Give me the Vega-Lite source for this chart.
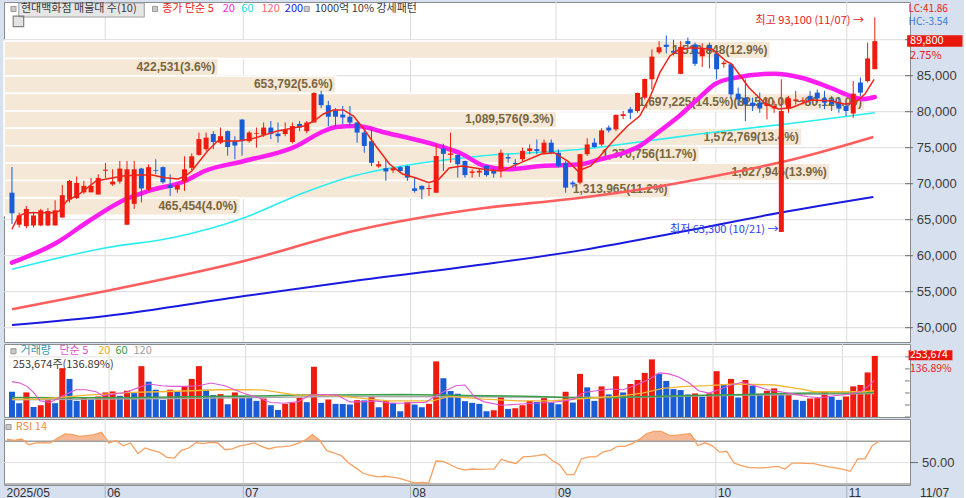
{
  "$schema": "https://vega.github.io/schema/vega-lite/v6.json",
  "background": "#d6e0ee",
  "padding": {"left": 2, "top": 1, "right": 0, "bottom": 0},
  "spacing": 0,
  "resolve": {"scale": {"color": "independent"}},
  "config": {
    "view": {"fill": "#ffffff", "stroke": "#8c8c8c", "strokeWidth": 1},
    "font": "Liberation Sans"
  },
  "datasets": {
    "px": [
      {"i":0,"o":68750,"h":72320,"l":64400,"c":65900,"v":105010,"vu":0,"r":72.1},
      {"i":1,"o":64300,"h":66000,"l":63900,"c":65600,"v":57340,"vu":0,"r":70.9},
      {"i":2,"o":64100,"h":66900,"l":63800,"c":66500,"v":102210,"vu":1,"r":72.1},
      {"i":3,"o":64200,"h":66100,"l":63900,"c":65600,"v":41920,"vu":0,"r":66.8},
      {"i":4,"o":64200,"h":66500,"l":64100,"c":66300,"v":48930,"vu":1,"r":68.6},
      {"i":5,"o":64200,"h":66600,"l":64100,"c":66200,"v":69960,"vu":1,"r":68.8},
      {"i":6,"o":64200,"h":67700,"l":64200,"c":66300,"v":57340,"vu":0,"r":68.6},
      {"i":7,"o":65300,"h":69800,"l":65300,"c":68400,"v":203150,"vu":1,"r":73.0},
      {"i":8,"o":67800,"h":70500,"l":67400,"c":70400,"v":158290,"vu":0,"r":77.0},
      {"i":9,"o":68000,"h":71000,"l":67900,"c":70100,"v":67160,"vu":0,"r":76.2},
      {"i":10,"o":68800,"h":70400,"l":68600,"c":69700,"v":81180,"vu":1,"r":74.6},
      {"i":11,"o":68800,"h":70800,"l":68800,"c":69700,"v":74170,"vu":0,"r":75.3},
      {"i":12,"o":68500,"h":71300,"l":68500,"c":70800,"v":85380,"vu":1,"r":76.2},
      {"i":13,"o":71800,"h":72900,"l":70800,"c":71950,"v":102210,"vu":1,"r":78.4},
      {"i":14,"o":69900,"h":72000,"l":69700,"c":70300,"v":106410,"vu":1,"r":68.4},
      {"i":15,"o":70300,"h":73150,"l":70000,"c":72100,"v":88190,"vu":0,"r":70.5},
      {"i":16,"o":64300,"h":73150,"l":64300,"c":72000,"v":109220,"vu":1,"r":65.8},
      {"i":17,"o":67200,"h":73150,"l":66500,"c":72000,"v":99400,"vu":0,"r":68.4},
      {"i":18,"o":72100,"h":72200,"l":67400,"c":69350,"v":211560,"vu":1,"r":58.4},
      {"i":19,"o":69200,"h":72700,"l":69000,"c":72300,"v":147070,"vu":0,"r":63.7},
      {"i":20,"o":71900,"h":73400,"l":71300,"c":71800,"v":113420,"vu":0,"r":61.5},
      {"i":21,"o":72300,"h":72400,"l":70000,"c":70200,"v":71360,"vu":0,"r":59.6},
      {"i":22,"o":69800,"h":71300,"l":68300,"c":69400,"v":113420,"vu":1,"r":55.0},
      {"i":23,"o":69200,"h":70100,"l":68750,"c":69800,"v":105010,"vu":0,"r":54.3},
      {"i":24,"o":70300,"h":73800,"l":69000,"c":72000,"v":127440,"vu":1,"r":61.5},
      {"i":25,"o":72200,"h":74200,"l":71900,"c":73800,"v":158290,"vu":1,"r":63.7},
      {"i":26,"o":74000,"h":77100,"l":73900,"c":76200,"v":211560,"vu":1,"r":68.8},
      {"i":27,"o":74800,"h":77100,"l":74500,"c":76400,"v":113420,"vu":0,"r":67.8},
      {"i":28,"o":76900,"h":77300,"l":74800,"c":75800,"v":90990,"vu":0,"r":69.0},
      {"i":29,"o":75700,"h":77800,"l":75500,"c":76600,"v":95200,"vu":1,"r":68.4},
      {"i":30,"o":77300,"h":77400,"l":73900,"c":75100,"v":53140,"vu":0,"r":62.1},
      {"i":31,"o":75900,"h":76600,"l":73400,"c":75300,"v":102210,"vu":1,"r":62.8},
      {"i":32,"o":78900,"h":79000,"l":73900,"c":75900,"v":88190,"vu":0,"r":65.6},
      {"i":33,"o":75900,"h":77300,"l":75700,"c":77100,"v":81180,"vu":0,"r":66.8},
      {"i":34,"o":76900,"h":77800,"l":75000,"c":77000,"v":67160,"vu":0,"r":68.4},
      {"i":35,"o":76800,"h":78500,"l":76500,"c":77800,"v":76970,"vu":1,"r":65.3},
      {"i":36,"o":77800,"h":78700,"l":76200,"c":76900,"v":48930,"vu":0,"r":62.8},
      {"i":37,"o":76950,"h":78500,"l":75700,"c":76600,"v":29300,"vu":0,"r":64.5},
      {"i":38,"o":76900,"h":78500,"l":76600,"c":77550,"v":54680,"vu":1,"r":65.0},
      {"i":39,"o":75800,"h":78500,"l":75600,"c":78000,"v":58880,"vu":1,"r":65.7},
      {"i":40,"o":78300,"h":78700,"l":77300,"c":77800,"v":79910,"vu":1,"r":68.0},
      {"i":41,"o":77300,"h":78700,"l":77000,"c":78500,"v":61690,"vu":0,"r":71.0},
      {"i":42,"o":78500,"h":82700,"l":78500,"c":82600,"v":208900,"vu":1,"r":76.2},
      {"i":43,"o":82400,"h":82900,"l":80500,"c":80900,"v":58880,"vu":0,"r":70.9},
      {"i":44,"o":80900,"h":81500,"l":78000,"c":79300,"v":72900,"vu":1,"r":61.2},
      {"i":45,"o":80200,"h":80500,"l":78000,"c":79300,"v":54680,"vu":0,"r":59.0},
      {"i":46,"o":79600,"h":80800,"l":78250,"c":79200,"v":54000,"vu":0,"r":56.5},
      {"i":47,"o":79300,"h":80800,"l":78000,"c":78500,"v":51870,"vu":0,"r":49.6},
      {"i":48,"o":78500,"h":78600,"l":75700,"c":77100,"v":70100,"vu":1,"r":44.8},
      {"i":49,"o":77100,"h":77550,"l":74300,"c":75250,"v":69000,"vu":0,"r":40.0},
      {"i":50,"o":75900,"h":77550,"l":72450,"c":72900,"v":82720,"vu":1,"r":38.0},
      {"i":51,"o":72400,"h":73150,"l":72200,"c":72700,"v":40660,"vu":0,"r":36.7},
      {"i":52,"o":72150,"h":73400,"l":70400,"c":71700,"v":65890,"vu":1,"r":37.2},
      {"i":53,"o":71850,"h":72300,"l":71500,"c":72150,"v":58880,"vu":0,"r":36.4},
      {"i":54,"o":72300,"h":72450,"l":71500,"c":71750,"v":23830,"vu":0,"r":35.2},
      {"i":55,"o":72450,"h":72500,"l":70400,"c":70850,"v":61690,"vu":1,"r":33.0},
      {"i":56,"o":69350,"h":70850,"l":68750,"c":69000,"v":51870,"vu":0,"r":31.0},
      {"i":57,"o":69700,"h":69750,"l":67850,"c":69200,"v":40660,"vu":0,"r":31.5},
      {"i":58,"o":69250,"h":69900,"l":68300,"c":69400,"v":54680,"vu":1,"r":30.9},
      {"i":59,"o":68750,"h":75450,"l":68750,"c":73850,"v":231330,"vu":1,"r":51.5},
      {"i":60,"o":74900,"h":75550,"l":71750,"c":74150,"v":161230,"vu":0,"r":51.2},
      {"i":61,"o":74000,"h":77100,"l":72900,"c":74200,"v":107950,"vu":0,"r":48.0},
      {"i":62,"o":74000,"h":74050,"l":70850,"c":72700,"v":96740,"vu":0,"r":44.5},
      {"i":63,"o":73150,"h":73200,"l":70850,"c":71200,"v":65890,"vu":0,"r":43.2},
      {"i":64,"o":71500,"h":72000,"l":70850,"c":71700,"v":58880,"vu":0,"r":44.0},
      {"i":65,"o":71550,"h":72150,"l":70950,"c":71800,"v":54680,"vu":0,"r":43.6},
      {"i":66,"o":72500,"h":72550,"l":71000,"c":71200,"v":23830,"vu":0,"r":43.8},
      {"i":67,"o":71850,"h":72250,"l":70850,"c":71400,"v":28040,"vu":1,"r":44.2},
      {"i":68,"o":72000,"h":74750,"l":70850,"c":74300,"v":82720,"vu":1,"r":53.2},
      {"i":69,"o":73700,"h":74150,"l":72900,"c":73500,"v":33650,"vu":0,"r":50.8},
      {"i":70,"o":72900,"h":73400,"l":72150,"c":72700,"v":36450,"vu":1,"r":49.2},
      {"i":71,"o":73400,"h":75000,"l":73150,"c":74550,"v":48930,"vu":1,"r":55.3},
      {"i":72,"o":74550,"h":75450,"l":74100,"c":74900,"v":67160,"vu":1,"r":55.8},
      {"i":73,"o":74800,"h":76150,"l":74100,"c":74550,"v":62950,"vu":0,"r":56.5},
      {"i":74,"o":74300,"h":76150,"l":74100,"c":75700,"v":78370,"vu":1,"r":57.8},
      {"i":75,"o":75700,"h":76150,"l":74100,"c":74300,"v":60150,"vu":0,"r":52.0},
      {"i":76,"o":74300,"h":74750,"l":72250,"c":72450,"v":53140,"vu":0,"r":48.1},
      {"i":77,"o":72900,"h":73150,"l":68750,"c":69450,"v":105010,"vu":1,"r":38.7},
      {"i":78,"o":70150,"h":70400,"l":69450,"c":69900,"v":60150,"vu":0,"r":38.7},
      {"i":79,"o":70150,"h":74150,"l":69900,"c":74100,"v":179320,"vu":1,"r":53.4},
      {"i":80,"o":74100,"h":76300,"l":73850,"c":75450,"v":123240,"vu":0,"r":55.3},
      {"i":81,"o":75700,"h":76300,"l":75000,"c":75100,"v":67160,"vu":0,"r":55.3},
      {"i":82,"o":75450,"h":77700,"l":75250,"c":77400,"v":127440,"vu":1,"r":60.0},
      {"i":83,"o":77800,"h":78100,"l":77100,"c":77400,"v":93790,"vu":0,"r":61.5},
      {"i":84,"o":77550,"h":79650,"l":77300,"c":79550,"v":169500,"vu":1,"r":65.3},
      {"i":85,"o":79400,"h":80100,"l":78950,"c":79650,"v":102210,"vu":0,"r":65.3},
      {"i":86,"o":80350,"h":80650,"l":78950,"c":79850,"v":137260,"vu":1,"r":67.8},
      {"i":87,"o":80100,"h":82650,"l":79850,"c":82600,"v":154080,"vu":1,"r":72.0},
      {"i":88,"o":81950,"h":84600,"l":81700,"c":84550,"v":183520,"vu":1,"r":77.3},
      {"i":89,"o":84500,"h":88650,"l":83100,"c":87650,"v":239600,"vu":1,"r":79.3},
      {"i":90,"o":88250,"h":89800,"l":88000,"c":88950,"v":179320,"vu":0,"r":79.3},
      {"i":91,"o":89300,"h":90600,"l":88100,"c":89000,"v":149870,"vu":0,"r":75.8},
      {"i":92,"o":88450,"h":90000,"l":87800,"c":88200,"v":116230,"vu":0,"r":75.6},
      {"i":93,"o":85250,"h":89800,"l":85200,"c":89000,"v":112020,"vu":0,"r":76.4},
      {"i":94,"o":89800,"h":90300,"l":88900,"c":89400,"v":93790,"vu":0,"r":77.1},
      {"i":95,"o":89350,"h":89600,"l":86350,"c":86650,"v":98000,"vu":1,"r":66.0},
      {"i":96,"o":87700,"h":89500,"l":86200,"c":88700,"v":83980,"vu":0,"r":68.6},
      {"i":97,"o":89300,"h":89600,"l":86000,"c":88500,"v":98500,"vu":1,"r":66.0},
      {"i":98,"o":88100,"h":88300,"l":84500,"c":85900,"v":190530,"vu":1,"r":59.8},
      {"i":99,"o":86600,"h":87050,"l":86100,"c":86800,"v":137260,"vu":0,"r":60.6},
      {"i":100,"o":86600,"h":86800,"l":81950,"c":82400,"v":158290,"vu":1,"r":49.6},
      {"i":101,"o":82500,"h":83350,"l":80800,"c":81700,"v":81180,"vu":0,"r":47.1},
      {"i":102,"o":81950,"h":84500,"l":78700,"c":81000,"v":154080,"vu":1,"r":45.6},
      {"i":103,"o":81250,"h":81950,"l":80100,"c":80800,"v":130250,"vu":0,"r":45.0},
      {"i":104,"o":81250,"h":82650,"l":79850,"c":80450,"v":95200,"vu":0,"r":45.0},
      {"i":105,"o":80800,"h":81950,"l":78950,"c":81050,"v":109220,"vu":1,"r":45.8},
      {"i":106,"o":80450,"h":81500,"l":79850,"c":80800,"v":119030,"vu":1,"r":46.5},
      {"i":107,"o":63300,"h":84500,"l":63300,"c":80100,"v":98500,"vu":0,"r":44.0},
      {"i":108,"o":80450,"h":82200,"l":79850,"c":81850,"v":99500,"vu":1,"r":49.6},
      {"i":109,"o":81500,"h":82900,"l":81000,"c":81700,"v":71360,"vu":0,"r":49.6},
      {"i":110,"o":81400,"h":82000,"l":81000,"c":81600,"v":67160,"vu":0,"r":49.2},
      {"i":111,"o":82200,"h":82900,"l":81000,"c":81500,"v":77000,"vu":1,"r":49.0},
      {"i":112,"o":82650,"h":83100,"l":81250,"c":81850,"v":78400,"vu":1,"r":47.3},
      {"i":113,"o":81850,"h":82900,"l":80350,"c":81250,"v":105010,"vu":1,"r":46.0},
      {"i":114,"o":81700,"h":82200,"l":80100,"c":81000,"v":83980,"vu":0,"r":45.0},
      {"i":115,"o":81250,"h":81950,"l":79850,"c":80450,"v":71360,"vu":0,"r":43.6},
      {"i":116,"o":80800,"h":81250,"l":79400,"c":80100,"v":85380,"vu":1,"r":41.8},
      {"i":117,"o":79750,"h":84250,"l":79150,"c":82500,"v":127440,"vu":1,"r":53.4},
      {"i":118,"o":84050,"h":84750,"l":82200,"c":82650,"v":133050,"vu":1,"r":53.6},
      {"i":119,"o":84250,"h":89600,"l":84050,"c":87400,"v":185310,"vu":1,"r":65.9},
      {"i":120,"o":85900,"h":93100,"l":85900,"c":89800,"v":253674,"vu":1,"r":70.2}
    ],
    "bands": [
      {"lo":87380,"hi":89800,"v":1510848,"lab":"1,510,848(12.9%)"},
      {"lo":84960,"hi":87380,"v":422531,"lab":"422,531(3.6%)"},
      {"lo":82540,"hi":84960,"v":653792,"lab":"653,792(5.6%)"},
      {"lo":80120,"hi":82540,"v":1697225,"lab":"1,697,225(14.5%)(82,540.00 ~ 80,120.00)"},
      {"lo":77700,"hi":80120,"v":1089576,"lab":"1,089,576(9.3%)"},
      {"lo":75280,"hi":77700,"v":1572769,"lab":"1,572,769(13.4%)"},
      {"lo":72860,"hi":75280,"v":1370756,"lab":"1,370,756(11.7%)"},
      {"lo":70440,"hi":72860,"v":1627946,"lab":"1,627,946(13.9%)"},
      {"lo":68020,"hi":70440,"v":1313965,"lab":"1,313,965(11.2%)"},
      {"lo":65600,"hi":68020,"v":465454,"lab":"465,454(4.0%)"}
    ],
    "ma": [
      {"k":"m200","i":0,"p":50370},{"k":"m200","i":13.1,"p":51620},{"k":"m200","i":32.3,"p":54400},{"k":"m200","i":47.5,"p":56490},{"k":"m200","i":65.7,"p":58800},{"k":"m200","i":79.5,"p":60810},{"k":"m200","i":93.3,"p":63350},{"k":"m200","i":107,"p":66000},{"k":"m200","i":119.8,"p":68150},
      {"k":"m120","i":0,"p":52550},{"k":"m120","i":13.1,"p":55100},{"k":"m120","i":32.3,"p":59260},{"k":"m120","i":47.5,"p":63430},{"k":"m120","i":65.7,"p":66620},{"k":"m120","i":77.7,"p":67870},{"k":"m120","i":87.8,"p":69260},{"k":"m120","i":97.8,"p":71070},{"k":"m120","i":109.4,"p":73570},{"k":"m120","i":119.8,"p":76490},
      {"k":"m60","i":0,"p":58110},{"k":"m60","i":13.1,"p":61110},{"k":"m60","i":22.3,"p":62500},{"k":"m60","i":32.3,"p":65280},{"k":"m60","i":40.6,"p":68750},{"k":"m60","i":47.5,"p":71070},{"k":"m60","i":54.3,"p":72460},{"k":"m60","i":65.3,"p":73850},{"k":"m60","i":79.1,"p":74780},{"k":"m60","i":88.3,"p":75930},{"k":"m60","i":95.6,"p":76900},{"k":"m60","i":99.7,"p":77400},{"k":"m60","i":109.4,"p":78500},{"k":"m60","i":120,"p":79860},
      {"k":"m20","i":0,"p":59030},{"k":"m20","i":6.2,"p":61800},{"k":"m20","i":10.7,"p":64820},{"k":"m20","i":15.8,"p":67830},{"k":"m20","i":19,"p":68990},{"k":"m20","i":24.1,"p":70380},{"k":"m20","i":26.8,"p":71760},{"k":"m20","i":32.3,"p":73150},{"k":"m20","i":39.6,"p":75240},{"k":"m20","i":42.9,"p":77080},{"k":"m20","i":45.1,"p":77880},{"k":"m20","i":47.9,"p":78010},{"k":"m20","i":52,"p":77080},{"k":"m20","i":58.9,"p":75380},{"k":"m20","i":62.6,"p":74130},{"k":"m20","i":65.7,"p":72460},{"k":"m20","i":69,"p":72000},{"k":"m20","i":73.6,"p":72460},{"k":"m20","i":79.1,"p":72690},{"k":"m20","i":81.8,"p":73390},{"k":"m20","i":84.6,"p":74130},{"k":"m20","i":87.3,"p":75240},{"k":"m20","i":90.1,"p":77320},{"k":"m20","i":92.8,"p":79400},{"k":"m20","i":95.6,"p":81950},{"k":"m20","i":97.8,"p":83850},{"k":"m20","i":100.6,"p":84720},{"k":"m20","i":106,"p":85280},{"k":"m20","i":109.8,"p":84720},{"k":"m20","i":113.9,"p":83290},{"k":"m20","i":116.6,"p":82180},{"k":"m20","i":118.4,"p":81760},{"k":"m20","i":120,"p":82040},
      {"k":"m5","i":0,"p":63670},{"k":"m5","i":0.9,"p":65510},{"k":"m5","i":2,"p":65970},{"k":"m5","i":4,"p":65970},{"k":"m5","i":6,"p":65970},{"k":"m5","i":6.6,"p":66210},{"k":"m5","i":7.6,"p":67600},{"k":"m5","i":9.4,"p":68570},{"k":"m5","i":11.7,"p":70380},{"k":"m5","i":15.4,"p":71070},{"k":"m5","i":17.6,"p":71210},{"k":"m5","i":19.5,"p":71210},{"k":"m5","i":21.3,"p":70830},{"k":"m5","i":23.1,"p":70650},{"k":"m5","i":24.1,"p":71070},{"k":"m5","i":25,"p":71760},{"k":"m5","i":27.2,"p":74540},{"k":"m5","i":28.6,"p":75930},{"k":"m5","i":31.4,"p":75930},{"k":"m5","i":33.3,"p":76210},{"k":"m5","i":36.9,"p":77320},{"k":"m5","i":40.6,"p":78010},{"k":"m5","i":42,"p":78710},{"k":"m5","i":43.3,"p":79680},{"k":"m5","i":44.7,"p":80240},{"k":"m5","i":46.1,"p":80240},{"k":"m5","i":47.5,"p":79400},{"k":"m5","i":48.8,"p":77780},{"k":"m5","i":50.6,"p":75240},{"k":"m5","i":52.5,"p":72740},{"k":"m5","i":54.3,"p":71350},{"k":"m5","i":56.1,"p":70830},{"k":"m5","i":58,"p":70140},{"k":"m5","i":59.4,"p":70650},{"k":"m5","i":60.8,"p":72180},{"k":"m5","i":62.6,"p":72460},{"k":"m5","i":64.4,"p":72180},{"k":"m5","i":66.3,"p":71900},{"k":"m5","i":68.1,"p":71760},{"k":"m5","i":70.8,"p":72920},{"k":"m5","i":73.6,"p":74130},{"k":"m5","i":75.4,"p":74310},{"k":"m5","i":77.3,"p":73150},{"k":"m5","i":78.7,"p":71760},{"k":"m5","i":80.5,"p":72460},{"k":"m5","i":81.8,"p":73850},{"k":"m5","i":83.6,"p":75930},{"k":"m5","i":85.6,"p":78010},{"k":"m5","i":87.3,"p":79400},{"k":"m5","i":88.7,"p":81950},{"k":"m5","i":90.1,"p":85420},{"k":"m5","i":91.5,"p":87740},{"k":"m5","i":92.8,"p":88670},{"k":"m5","i":94.6,"p":88890},{"k":"m5","i":97.4,"p":88670},{"k":"m5","i":99.3,"p":87040},{"k":"m5","i":100.1,"p":86630},{"k":"m5","i":102.5,"p":83330},{"k":"m5","i":104.8,"p":81070},{"k":"m5","i":106.6,"p":80380},{"k":"m5","i":108.4,"p":80560},{"k":"m5","i":111.1,"p":81630},{"k":"m5","i":113.9,"p":81490},{"k":"m5","i":115.8,"p":81070},{"k":"m5","i":117.2,"p":81250},{"k":"m5","i":118.6,"p":82420},{"k":"m5","i":119.9,"p":84500}
    ],
    "vma": [
      {"k":"v120","i":0,"v":71360},{"k":"v120","i":22.2,"v":76970},{"k":"v120","i":45.2,"v":85380},{"k":"v120","i":65.7,"v":83980},{"k":"v120","i":84.1,"v":81180},{"k":"v120","i":102.4,"v":90990},{"k":"v120","i":119.9,"v":98000},
      {"k":"v60","i":0,"v":81180},{"k":"v60","i":8.5,"v":79770},{"k":"v60","i":17.7,"v":81180},{"k":"v60","i":26.8,"v":85380},{"k":"v60","i":36,"v":88190},{"k":"v60","i":39.7,"v":90990},{"k":"v60","i":45.2,"v":90990},{"k":"v60","i":54.3,"v":93790},{"k":"v60","i":65.7,"v":88190},{"k":"v60","i":73.1,"v":85380},{"k":"v60","i":77.7,"v":80000},{"k":"v60","i":84.1,"v":81180},{"k":"v60","i":88.7,"v":85380},{"k":"v60","i":93.2,"v":88190},{"k":"v60","i":97.8,"v":90990},{"k":"v60","i":102.4,"v":93790},{"k":"v60","i":106.9,"v":98000},{"k":"v60","i":111.6,"v":99400},{"k":"v60","i":116.2,"v":99400},{"k":"v60","i":119.9,"v":102210},
      {"k":"v20","i":0,"v":74170},{"k":"v20","i":3.9,"v":74170},{"k":"v20","i":6.6,"v":81180},{"k":"v20","i":10.3,"v":90990},{"k":"v20","i":13.1,"v":95200},{"k":"v20","i":16.7,"v":102210},{"k":"v20","i":20.4,"v":105010},{"k":"v20","i":25,"v":109220},{"k":"v20","i":28.7,"v":113420},{"k":"v20","i":32.3,"v":113420},{"k":"v20","i":35.1,"v":112020},{"k":"v20","i":37.8,"v":99400},{"k":"v20","i":39.7,"v":90990},{"k":"v20","i":43.3,"v":90990},{"k":"v20","i":46.1,"v":85380},{"k":"v20","i":49.7,"v":74170},{"k":"v20","i":52.5,"v":67160},{"k":"v20","i":55.2,"v":67160},{"k":"v20","i":58.5,"v":67160},{"k":"v20","i":60.8,"v":85380},{"k":"v20","i":63.5,"v":79770},{"k":"v20","i":65.7,"v":74170},{"k":"v20","i":70.3,"v":67160},{"k":"v20","i":74.9,"v":67160},{"k":"v20","i":79.5,"v":76970},{"k":"v20","i":84.1,"v":85380},{"k":"v20","i":87.7,"v":99400},{"k":"v20","i":90.5,"v":119030},{"k":"v20","i":93.2,"v":126040},{"k":"v20","i":96.9,"v":130250},{"k":"v20","i":100.6,"v":137260},{"k":"v20","i":106.1,"v":133050},{"k":"v20","i":109.8,"v":116230},{"k":"v20","i":111.6,"v":105010},{"k":"v20","i":115.2,"v":105010},{"k":"v20","i":118.5,"v":105010},{"k":"v20","i":119.9,"v":109220},
      {"k":"v5","i":0,"v":147070},{"k":"v5","i":1.1,"v":141460},{"k":"v5","i":2.1,"v":127440},{"k":"v5","i":3,"v":102210},{"k":"v5","i":3.9,"v":67160},{"k":"v5","i":5.3,"v":60150},{"k":"v5","i":6.6,"v":81180},{"k":"v5","i":7.6,"v":95200},{"k":"v5","i":8.9,"v":113420},{"k":"v5","i":10.3,"v":113420},{"k":"v5","i":11.7,"v":105010},{"k":"v5","i":12.6,"v":88190},{"k":"v5","i":14,"v":95200},{"k":"v5","i":15.8,"v":102210},{"k":"v5","i":17.7,"v":123240},{"k":"v5","i":19,"v":137260},{"k":"v5","i":20.9,"v":130250},{"k":"v5","i":22.2,"v":127440},{"k":"v5","i":24.1,"v":127440},{"k":"v5","i":25.9,"v":130250},{"k":"v5","i":27.7,"v":141460},{"k":"v5","i":29.6,"v":130250},{"k":"v5","i":31,"v":113420},{"k":"v5","i":32.3,"v":98000},{"k":"v5","i":34.2,"v":81180},{"k":"v5","i":36,"v":60150},{"k":"v5","i":37.8,"v":57340},{"k":"v5","i":39.7,"v":62950},{"k":"v5","i":41.5,"v":90990},{"k":"v5","i":43.3,"v":93790},{"k":"v5","i":45.2,"v":90990},{"k":"v5","i":47,"v":62950},{"k":"v5","i":48.8,"v":62950},{"k":"v5","i":50.7,"v":67160},{"k":"v5","i":52.5,"v":57340},{"k":"v5","i":54.3,"v":57340},{"k":"v5","i":56.2,"v":60150},{"k":"v5","i":57.5,"v":60150},{"k":"v5","i":59,"v":88190},{"k":"v5","i":60.3,"v":109220},{"k":"v5","i":61.7,"v":130250},{"k":"v5","i":63,"v":133050},{"k":"v5","i":64.4,"v":81180},{"k":"v5","i":65.7,"v":62950},{"k":"v5","i":68.1,"v":48930},{"k":"v5","i":70.3,"v":53140},{"k":"v5","i":72.6,"v":57340},{"k":"v5","i":74.9,"v":60150},{"k":"v5","i":76.8,"v":67160},{"k":"v5","i":78.1,"v":74170},{"k":"v5","i":79.5,"v":102210},{"k":"v5","i":81.3,"v":109220},{"k":"v5","i":83.2,"v":116230},{"k":"v5","i":85,"v":113420},{"k":"v5","i":86.8,"v":133050},{"k":"v5","i":88.7,"v":158290},{"k":"v5","i":90,"v":183520},{"k":"v5","i":91.4,"v":179320},{"k":"v5","i":92.8,"v":165300},{"k":"v5","i":94.2,"v":141460},{"k":"v5","i":95.5,"v":109220},{"k":"v5","i":96.9,"v":99400},{"k":"v5","i":98.3,"v":113420},{"k":"v5","i":99.7,"v":130250},{"k":"v5","i":101.5,"v":144270},{"k":"v5","i":103.3,"v":130250},{"k":"v5","i":105.1,"v":113420},{"k":"v5","i":106.9,"v":105010},{"k":"v5","i":108.8,"v":95200},{"k":"v5","i":110.7,"v":83980},{"k":"v5","i":112.5,"v":79770},{"k":"v5","i":114.3,"v":88190},{"k":"v5","i":116.2,"v":93790},{"k":"v5","i":118,"v":105010},{"k":"v5","i":118.9,"v":123240},{"k":"v5","i":119.9,"v":151280}
    ],
    "pgrid": [{"g":50000},{"g":55000},{"g":60000},{"g":65000},{"g":70000},{"g":75000},{"g":80000},{"g":85000},{"g":90000}],
    "vgrid": [{"g":0},{"g":50000},{"g":100000},{"g":150000},{"g":200000},{"g":250000}],
    "mgrid": [{"m":13.5},{"m":32.5},{"m":55.5},{"m":75.5},{"m":97.5},{"m":115.5}],
    "mlab": [{"m":-0.35,"lab":"2025/05"},{"m":13.5,"lab":"06"},{"m":32.5,"lab":"07"},{"m":55.5,"lab":"08"},{"m":75.5,"lab":"09"},{"m":97.5,"lab":"10"},{"m":115.5,"lab":"11"},{"m":125.3,"lab":"11/07"}],
    "rlev": [{"lv":30},{"lv":50},{"lv":70}],
    "notesL": [
      {"i":0.21,"p":94270,"t":"","k":"sq"},
      {"i":0.9,"p":92550,"t":"","k":"icon"},
      {"i":1.25,"p":94270,"t":"현대백화점 매물대 수(10)","k":"leg"},
      {"i":19.9,"p":94270,"t":"","k":"sq"},
      {"i":20.9,"p":94270,"t":"종가 단순 5","k":"ma5"},
      {"i":29.3,"p":94270,"t":"20","k":"ma20"},
      {"i":31.9,"p":94270,"t":"60","k":"ma60"},
      {"i":34.7,"p":94270,"t":"120","k":"ma120"},
      {"i":37.95,"p":94270,"t":"200","k":"ma200"},
      {"i":41.0,"p":94270,"t":"","k":"sq"},
      {"i":42.1,"p":94270,"t":"1000억 10% 강세패턴","k":"leg"},
      {"i":124.9,"p":89820,"t":"89,800","k":"white"},
      {"i":124.9,"p":87750,"t":"2.75%","k":"red"}
    ],
    "notesS": [
      {"i":124.7,"p":94300,"t":"LC:41.86","k":"red"},
      {"i":124.7,"p":92450,"t":"HC:-3.54","k":"blue"}
    ],
    "notesR": [
      {"i":118.5,"p":92600,"t":"최고 93,100 (11/07) →","k":"red"},
      {"i":106.6,"p":63530,"t":"최저 63,300 (10/21) →","k":"blue"}
    ],
    "vnotes": [
      {"i":0.21,"v":273500,"t":"","k":"sq"},
      {"i":1.2,"v":273500,"t":"거래량","k":"vol"},
      {"i":6.6,"v":273500,"t":"단순 5","k":"v5"},
      {"i":12.0,"v":273500,"t":"20","k":"v20"},
      {"i":14.4,"v":273500,"t":"60","k":"v60"},
      {"i":16.9,"v":273500,"t":"120","k":"v120"},
      {"i":0.1,"v":214500,"t":"253,674주(136.89%)","k":"txt"}
    ],
    "vnotesR": [
      {"i":124.9,"v":258000,"t":"253,674","k":"white"},
      {"i":124.9,"v":201000,"t":"136.89%","k":"red"}
    ],
    "rnotes": [
      {"i":0.21,"r":83.4,"t":"","k":"sq"},
      {"i":1.2,"r":83.4,"t":"RSI 14","k":"rsi"}
    ]
  },
  "vconcat": [
    {
      "width": 906,
      "height": 340,
      "resolve": {"scale": {"x": "independent"}},
      "layer": [
        {
          "layer": [
            {
              "data": {"name": "pgrid"},
              "mark": {"type": "rule", "stroke": "#dcdcdc", "strokeWidth": 1},
              "encoding": {
                "x": {"datum": -0.413, "type": "quantitative", "scale": {"domain": [-0.413, 124.2], "nice": false, "zero": false}, "axis": null},
                "x2": {"datum": 124.2},
                "y": {"field": "g", "type": "quantitative", "scale": {"domain": [48012, 95238], "nice": false, "zero": false}, "axis": null}
              }
            },
            {
              "data": {"name": "mgrid"},
              "mark": {"type": "rule", "stroke": "#dcdcdc", "strokeWidth": 1},
              "encoding": {
                "x": {"field": "m", "type": "quantitative", "scale": {"domain": [-0.413, 124.2], "nice": false, "zero": false}, "axis": null},
                "y": {"datum": 95238, "type": "quantitative", "scale": {"domain": [48012, 95238], "nice": false, "zero": false}, "axis": null},
                "y2": {"datum": 48012}
              }
            }
          ]
        },
        {
          "data": {"name": "bands"},
          "encoding": {
            "x": {"field": "v", "type": "quantitative", "scale": {"domain": [0, 1785920], "nice": false}, "axis": null},
            "y": {"field": "hi", "type": "quantitative", "scale": {"domain": [48012, 95238], "nice": false, "zero": false}, "axis": null}
          },
          "layer": [
            {"mark": {"type": "rect", "fill": "#f5e8d6", "stroke": "#ffffff", "strokeWidth": 1.6}, "encoding": {"x2": {"datum": 0}, "y2": {"field": "lo"}}},
            {"mark": {"type": "text", "align": "right", "baseline": "top", "dx": -3, "dy": 3.5, "font": "Liberation Sans", "fontSize": 12, "fontWeight": "bold", "fill": "#786640"}, "encoding": {"text": {"field": "lab", "type": "nominal"}}}
          ]
        },
        {
          "layer": [
            {
              "data": {"name": "ma"},
              "transform": [{"filter": "datum.k == 'm200'"}],
              "mark": {"type": "line", "stroke": "#1a1adf", "strokeWidth": 2, "interpolate": "monotone"},
              "encoding": {
                "x": {"field": "i", "type": "quantitative", "scale": {"domain": [-0.413, 124.2], "nice": false, "zero": false}, "axis": null},
                "y": {"field": "p", "type": "quantitative", "scale": {"domain": [48012, 95238], "nice": false, "zero": false}, "axis": null}
              }
            },
            {
              "data": {"name": "ma"},
              "transform": [{"filter": "datum.k == 'm120'"}],
              "mark": {"type": "line", "stroke": "#ff5e5e", "strokeWidth": 2.6, "interpolate": "monotone"},
              "encoding": {
                "x": {"field": "i", "type": "quantitative", "scale": {"domain": [-0.413, 124.2], "nice": false, "zero": false}, "axis": null},
                "y": {"field": "p", "type": "quantitative", "scale": {"domain": [48012, 95238], "nice": false, "zero": false}, "axis": null}
              }
            },
            {
              "data": {"name": "ma"},
              "transform": [{"filter": "datum.k == 'm60'"}],
              "mark": {"type": "line", "stroke": "#2aeef0", "strokeWidth": 1.6, "interpolate": "monotone"},
              "encoding": {
                "x": {"field": "i", "type": "quantitative", "scale": {"domain": [-0.413, 124.2], "nice": false, "zero": false}, "axis": null},
                "y": {"field": "p", "type": "quantitative", "scale": {"domain": [48012, 95238], "nice": false, "zero": false}, "axis": null}
              }
            },
            {
              "data": {"name": "ma"},
              "transform": [{"filter": "datum.k == 'm20'"}],
              "mark": {"type": "line", "stroke": "#ff1ef0", "strokeWidth": 4.5, "strokeCap": "round", "interpolate": "monotone"},
              "encoding": {
                "x": {"field": "i", "type": "quantitative", "scale": {"domain": [-0.413, 124.2], "nice": false, "zero": false}, "axis": null},
                "y": {"field": "p", "type": "quantitative", "scale": {"domain": [48012, 95238], "nice": false, "zero": false}, "axis": null}
              }
            },
            {
              "data": {"name": "px"},
              "mark": {"type": "rule", "strokeWidth": 1},
              "encoding": {
                "x": {"field": "i", "type": "quantitative", "scale": {"domain": [-0.413, 124.2], "nice": false, "zero": false}, "axis": null},
                "y": {"field": "l", "type": "quantitative", "scale": {"domain": [48012, 95238], "nice": false, "zero": false}, "axis": null},
                "y2": {"field": "h"},
                "color": {"condition": {"test": "datum.c >= datum.o", "value": "#ee1b0e"}, "value": "#1a5cd6"}
              }
            },
            {
              "data": {"name": "px"},
              "mark": {"type": "bar", "width": 5},
              "encoding": {
                "x": {"field": "i", "type": "quantitative", "scale": {"domain": [-0.413, 124.2], "nice": false, "zero": false}, "axis": null},
                "y": {"field": "o", "type": "quantitative", "scale": {"domain": [48012, 95238], "nice": false, "zero": false}, "axis": null},
                "y2": {"field": "c"},
                "color": {"condition": {"test": "datum.c >= datum.o", "value": "#ee1b0e"}, "value": "#1a5cd6"}
              }
            },
            {
              "data": {"name": "ma"},
              "transform": [{"filter": "datum.k == 'm5'"}],
              "mark": {"type": "line", "stroke": "#f0231a", "strokeWidth": 1.5},
              "encoding": {
                "x": {"field": "i", "type": "quantitative", "scale": {"domain": [-0.413, 124.2], "nice": false, "zero": false}, "axis": null},
                "y": {"field": "p", "type": "quantitative", "scale": {"domain": [48012, 95238], "nice": false, "zero": false}, "axis": null}
              }
            },
            {
              "data": {"name": "pgrid"},
              "mark": {"type": "rule", "stroke": "#6a6a6a", "strokeWidth": 1},
              "encoding": {
                "x": {"datum": 124.2, "type": "quantitative", "scale": {"domain": [-0.413, 124.2], "nice": false, "zero": false}, "axis": null},
                "x2": {"datum": 125.3},
                "y": {"field": "g", "type": "quantitative", "scale": {"domain": [48012, 95238], "nice": false, "zero": false}, "axis": null}
              }
            },
            {
              "data": {"name": "pgrid"},
              "transform": [{"filter": "datum.g < 90000"}],
              "mark": {"type": "text", "align": "left", "baseline": "middle", "font": "Liberation Sans", "fontSize": 13, "fill": "#3c3c3c"},
              "encoding": {
                "x": {"datum": 125.85, "type": "quantitative", "scale": {"domain": [-0.413, 124.2], "nice": false, "zero": false}, "axis": null},
                "y": {"field": "g", "type": "quantitative", "scale": {"domain": [48012, 95238], "nice": false, "zero": false}, "axis": null},
                "text": {"field": "g", "type": "quantitative", "format": ","}
              }
            },
            {
              "data": {"values": [{}]},
              "mark": {"type": "rect", "fill": "#e6e6e6", "stroke": "#a0a0a0", "strokeWidth": 1},
              "encoding": {
                "x": {"datum": 0.95, "type": "quantitative", "scale": {"domain": [-0.413, 124.2], "nice": false, "zero": false}, "axis": null},
                "x2": {"datum": 18.4},
                "y": {"datum": 95100, "type": "quantitative", "scale": {"domain": [48012, 95238], "nice": false, "zero": false}, "axis": null},
                "y2": {"datum": 93150}
              }
            },
            {
              "data": {"values": [{}]},
              "mark": {"type": "rect", "fill": "#e8180c"},
              "encoding": {
                "x": {"datum": 124.5, "type": "quantitative", "scale": {"domain": [-0.413, 124.2], "nice": false, "zero": false}, "axis": null},
                "x2": {"datum": 132.2},
                "y": {"datum": 90610, "type": "quantitative", "scale": {"domain": [48012, 95238], "nice": false, "zero": false}, "axis": null},
                "y2": {"datum": 89030}
              }
            },
            {
              "data": {"name": "notesL"},
              "transform": [{"filter": "datum.k == 'sq'"}],
              "mark": {"type": "square", "size": 26, "filled": true, "fill": "#b4b4b4", "stroke": "#707070", "strokeWidth": 1},
              "encoding": {
                "x": {"field": "i", "type": "quantitative", "scale": {"domain": [-0.413, 124.2], "nice": false, "zero": false}, "axis": null},
                "y": {"field": "p", "type": "quantitative", "scale": {"domain": [48012, 95238], "nice": false, "zero": false}, "axis": null}
              }
            },
            {
              "data": {"name": "notesL"},
              "transform": [{"filter": "datum.k == 'icon'"}],
              "mark": {"type": "square", "size": 110, "filled": true, "fill": "#d8d8d8", "stroke": "#505050", "strokeWidth": 1.2},
              "encoding": {
                "x": {"field": "i", "type": "quantitative", "scale": {"domain": [-0.413, 124.2], "nice": false, "zero": false}, "axis": null},
                "y": {"field": "p", "type": "quantitative", "scale": {"domain": [48012, 95238], "nice": false, "zero": false}, "axis": null}
              }
            },
            {
              "data": {"name": "notesL"},
              "transform": [{"filter": "datum.k != 'sq' && datum.k != 'icon'"}],
              "mark": {"type": "text", "align": "left", "baseline": "middle", "font": "Noto Sans CJK KR", "fontSize": 11},
              "encoding": {
                "x": {"field": "i", "type": "quantitative", "scale": {"domain": [-0.413, 124.2], "nice": false, "zero": false}, "axis": null},
                "y": {"field": "p", "type": "quantitative", "scale": {"domain": [48012, 95238], "nice": false, "zero": false}, "axis": null},
                "text": {"field": "t", "type": "nominal"},
                "color": {"field": "k", "type": "nominal", "legend": null,
                  "scale": {"domain": ["leg", "ma5", "ma20", "ma60", "ma120", "ma200", "red", "white"],
                            "range": ["#3a3a3a", "#f0231a", "#ff1ef0", "#1fd8e8", "#ff6a6a", "#2020e0", "#e8201a", "#ffffff"]}}
              }
            },
            {
              "data": {"name": "notesS"},
              "mark": {"type": "text", "align": "left", "baseline": "middle", "font": "Noto Sans CJK KR", "fontSize": 10},
              "encoding": {
                "x": {"field": "i", "type": "quantitative", "scale": {"domain": [-0.413, 124.2], "nice": false, "zero": false}, "axis": null},
                "y": {"field": "p", "type": "quantitative", "scale": {"domain": [48012, 95238], "nice": false, "zero": false}, "axis": null},
                "text": {"field": "t", "type": "nominal"},
                "color": {"condition": {"test": "datum.k == 'red'", "value": "#e8201a"}, "value": "#3a78e0"}
              }
            },
            {
              "data": {"name": "notesR"},
              "mark": {"type": "text", "align": "right", "baseline": "middle", "font": "Noto Sans CJK KR", "fontSize": 11},
              "encoding": {
                "x": {"field": "i", "type": "quantitative", "scale": {"domain": [-0.413, 124.2], "nice": false, "zero": false}, "axis": null},
                "y": {"field": "p", "type": "quantitative", "scale": {"domain": [48012, 95238], "nice": false, "zero": false}, "axis": null},
                "text": {"field": "t", "type": "nominal"},
                "color": {"condition": {"test": "datum.k == 'red'", "value": "#e8201a"}, "value": "#2a3ee6"}
              }
            }
          ]
        }
      ]
    },
    {
      "width": 906,
      "height": 73,
      "layer": [
        {
          "data": {"name": "mgrid"},
          "mark": {"type": "rule", "stroke": "#dcdcdc", "strokeWidth": 1},
          "encoding": {
            "x": {"field": "m", "type": "quantitative", "scale": {"domain": [-0.413, 124.2], "nice": false, "zero": false}, "axis": null},
            "y": {"datum": 303600, "type": "quantitative", "scale": {"domain": [0, 303600], "nice": false}, "axis": null},
            "y2": {"datum": 0}
          }
        },
        {
          "data": {"name": "vgrid"},
          "transform": [{"filter": "datum.g == 250000"}],
          "mark": {"type": "rule", "stroke": "#e2e2e2", "strokeWidth": 1},
          "encoding": {
            "x": {"datum": -0.413, "type": "quantitative", "scale": {"domain": [-0.413, 124.2], "nice": false, "zero": false}, "axis": null},
            "x2": {"datum": 124.2},
            "y": {"field": "g", "type": "quantitative", "scale": {"domain": [0, 303600], "nice": false}, "axis": null}
          }
        },
        {
          "data": {"name": "px"},
          "mark": {"type": "bar", "width": 6},
          "encoding": {
            "x": {"field": "i", "type": "quantitative", "scale": {"domain": [-0.413, 124.2], "nice": false, "zero": false}, "axis": null},
            "y": {"field": "v", "type": "quantitative", "scale": {"domain": [0, 303600], "nice": false}, "axis": null},
            "color": {"condition": {"test": "datum.vu == 1", "value": "#ee1b0e"}, "value": "#1a5cd6"}
          }
        },
        {
          "data": {"name": "vma"},
          "transform": [{"filter": "datum.k == 'v120'"}],
          "mark": {"type": "line", "stroke": "#a8a8a8", "strokeWidth": 1.5},
          "encoding": {
            "x": {"field": "i", "type": "quantitative", "scale": {"domain": [-0.413, 124.2], "nice": false, "zero": false}, "axis": null},
            "y": {"field": "v", "type": "quantitative", "scale": {"domain": [0, 303600], "nice": false}, "axis": null}
          }
        },
        {
          "data": {"name": "vma"},
          "transform": [{"filter": "datum.k == 'v60'"}],
          "mark": {"type": "line", "stroke": "#3a9e4a", "strokeWidth": 1.5},
          "encoding": {
            "x": {"field": "i", "type": "quantitative", "scale": {"domain": [-0.413, 124.2], "nice": false, "zero": false}, "axis": null},
            "y": {"field": "v", "type": "quantitative", "scale": {"domain": [0, 303600], "nice": false}, "axis": null}
          }
        },
        {
          "data": {"name": "vma"},
          "transform": [{"filter": "datum.k == 'v20'"}],
          "mark": {"type": "line", "stroke": "#f2b632", "strokeWidth": 1.3},
          "encoding": {
            "x": {"field": "i", "type": "quantitative", "scale": {"domain": [-0.413, 124.2], "nice": false, "zero": false}, "axis": null},
            "y": {"field": "v", "type": "quantitative", "scale": {"domain": [0, 303600], "nice": false}, "axis": null}
          }
        },
        {
          "data": {"name": "vma"},
          "transform": [{"filter": "datum.k == 'v5'"}],
          "mark": {"type": "line", "stroke": "#e055d0", "strokeWidth": 1.1},
          "encoding": {
            "x": {"field": "i", "type": "quantitative", "scale": {"domain": [-0.413, 124.2], "nice": false, "zero": false}, "axis": null},
            "y": {"field": "v", "type": "quantitative", "scale": {"domain": [0, 303600], "nice": false}, "axis": null}
          }
        },
        {
          "data": {"name": "vgrid"},
          "mark": {"type": "rule", "stroke": "#7a7a7a", "strokeWidth": 1},
          "encoding": {
            "x": {"datum": 124.2, "type": "quantitative", "scale": {"domain": [-0.413, 124.2], "nice": false, "zero": false}, "axis": null},
            "x2": {"datum": 124.85},
            "y": {"field": "g", "type": "quantitative", "scale": {"domain": [0, 303600], "nice": false}, "axis": null}
          }
        },
        {
          "data": {"values": [{}]},
          "mark": {"type": "rect", "fill": "#e8180c"},
          "encoding": {
            "x": {"datum": 124.7, "type": "quantitative", "scale": {"domain": [-0.413, 124.2], "nice": false, "zero": false}, "axis": null},
            "x2": {"datum": 130.8},
            "y": {"datum": 277400, "type": "quantitative", "scale": {"domain": [0, 303600], "nice": false}, "axis": null},
            "y2": {"datum": 235800}
          }
        },
        {
          "data": {"name": "vnotes"},
          "transform": [{"filter": "datum.k == 'sq'"}],
          "mark": {"type": "square", "size": 26, "filled": true, "fill": "#b4b4b4", "stroke": "#707070", "strokeWidth": 1},
          "encoding": {
            "x": {"field": "i", "type": "quantitative", "scale": {"domain": [-0.413, 124.2], "nice": false, "zero": false}, "axis": null},
            "y": {"field": "v", "type": "quantitative", "scale": {"domain": [0, 303600], "nice": false}, "axis": null}
          }
        },
        {
          "data": {"name": "vnotes"},
          "transform": [{"filter": "datum.k != 'sq'"}],
          "mark": {"type": "text", "align": "left", "baseline": "middle", "font": "Noto Sans CJK KR", "fontSize": 11},
          "encoding": {
            "x": {"field": "i", "type": "quantitative", "scale": {"domain": [-0.413, 124.2], "nice": false, "zero": false}, "axis": null},
            "y": {"field": "v", "type": "quantitative", "scale": {"domain": [0, 303600], "nice": false}, "axis": null},
            "text": {"field": "t", "type": "nominal"},
            "color": {"field": "k", "type": "nominal", "legend": null,
              "scale": {"domain": ["vol", "v5", "v20", "v60", "v120", "txt"],
                        "range": ["#3898a8", "#e050c8", "#f0b020", "#3a9e4a", "#a0a0a0", "#3a3a3a"]}}
          }
        },
        {
          "data": {"name": "vnotesR"},
          "mark": {"type": "text", "align": "left", "baseline": "middle", "font": "Noto Sans CJK KR", "fontSize": 10.5},
          "encoding": {
            "x": {"field": "i", "type": "quantitative", "scale": {"domain": [-0.413, 124.2], "nice": false, "zero": false}, "axis": null},
            "y": {"field": "v", "type": "quantitative", "scale": {"domain": [0, 303600], "nice": false}, "axis": null},
            "text": {"field": "t", "type": "nominal"},
            "color": {"condition": {"test": "datum.k == 'white'", "value": "#ffffff"}, "value": "#e8201a"}
          }
        }
      ]
    },
    {
      "width": 906,
      "height": 66,
      "resolve": {"scale": {"y": "independent"}},
      "layer": [
        {
          "data": {"name": "px"},
          "mark": {"type": "area", "fill": "#f6b994"},
          "encoding": {
            "x": {"field": "i", "type": "quantitative", "scale": {"domain": [-0.413, 124.2], "nice": false, "zero": false}, "axis": null},
            "y": {"field": "r", "type": "quantitative", "scale": {"domain": [70, 90.9], "range": [22.28, 0], "clamp": true, "nice": false, "zero": false}, "axis": null},
            "y2": {"datum": 70}
          }
        },
        {
          "layer": [
            {
              "data": {"name": "mgrid"},
              "mark": {"type": "rule", "stroke": "#dcdcdc", "strokeWidth": 1},
              "encoding": {
                "x": {"field": "m", "type": "quantitative", "scale": {"domain": [-0.413, 124.2], "nice": false, "zero": false}, "axis": null},
                "y": {"datum": 90.9, "type": "quantitative", "scale": {"domain": [29, 90.9], "nice": false, "zero": false}, "axis": null},
                "y2": {"datum": 29}
              }
            },
            {
              "data": {"name": "rlev"},
              "transform": [{"filter": "datum.lv != 50"}],
              "mark": {"type": "rule", "stroke": "#a0a0a0", "strokeWidth": 1.5},
              "encoding": {
                "x": {"datum": -0.413, "type": "quantitative", "scale": {"domain": [-0.413, 124.2], "nice": false, "zero": false}, "axis": null},
                "x2": {"datum": 124.2},
                "y": {"field": "lv", "type": "quantitative", "scale": {"domain": [29, 90.9], "nice": false, "zero": false}, "axis": null}
              }
            },
            {
              "data": {"name": "rlev"},
              "transform": [{"filter": "datum.lv == 50"}],
              "mark": {"type": "rule", "stroke": "#e0e0e0", "strokeWidth": 1},
              "encoding": {
                "x": {"datum": -0.413, "type": "quantitative", "scale": {"domain": [-0.413, 124.2], "nice": false, "zero": false}, "axis": null},
                "x2": {"datum": 124.2},
                "y": {"field": "lv", "type": "quantitative", "scale": {"domain": [29, 90.9], "nice": false, "zero": false}, "axis": null}
              }
            },
            {
              "data": {"name": "px"},
              "mark": {"type": "line", "stroke": "#f7a060", "strokeWidth": 1.3},
              "encoding": {
                "x": {"field": "i", "type": "quantitative", "scale": {"domain": [-0.413, 124.2], "nice": false, "zero": false}, "axis": null},
                "y": {"field": "r", "type": "quantitative", "scale": {"domain": [29, 90.9], "nice": false, "zero": false}, "axis": null}
              }
            },
            {
              "data": {"name": "rlev"},
              "transform": [{"filter": "datum.lv == 50"}],
              "mark": {"type": "rule", "stroke": "#6a6a6a", "strokeWidth": 1},
              "encoding": {
                "x": {"datum": 124.2, "type": "quantitative", "scale": {"domain": [-0.413, 124.2], "nice": false, "zero": false}, "axis": null},
                "x2": {"datum": 125.3},
                "y": {"field": "lv", "type": "quantitative", "scale": {"domain": [29, 90.9], "nice": false, "zero": false}, "axis": null}
              }
            },
            {
              "data": {"name": "rlev"},
              "transform": [{"filter": "datum.lv == 50"}],
              "mark": {"type": "text", "align": "left", "baseline": "middle", "font": "Liberation Sans", "fontSize": 13, "fill": "#3c3c3c"},
              "encoding": {
                "x": {"datum": 125.85, "type": "quantitative", "scale": {"domain": [-0.413, 124.2], "nice": false, "zero": false}, "axis": null},
                "y": {"field": "lv", "type": "quantitative", "scale": {"domain": [29, 90.9], "nice": false, "zero": false}, "axis": null},
                "text": {"field": "lv", "type": "quantitative", "format": ".2f"}
              }
            },
            {
              "data": {"name": "mgrid"},
              "mark": {"type": "rule", "stroke": "#aab4c4", "strokeWidth": 1},
              "encoding": {
                "x": {"field": "m", "type": "quantitative", "scale": {"domain": [-0.413, 124.2], "nice": false, "zero": false}, "axis": null},
                "y": {"datum": 29, "type": "quantitative", "scale": {"domain": [29, 90.9], "nice": false, "zero": false}, "axis": null},
                "y2": {"datum": 14.5}
              }
            },
            {
              "data": {"name": "mlab"},
              "mark": {"type": "text", "align": "left", "baseline": "middle", "dx": 2, "font": "Liberation Sans", "fontSize": 12, "fill": "#303030"},
              "encoding": {
                "x": {"field": "m", "type": "quantitative", "scale": {"domain": [-0.413, 124.2], "nice": false, "zero": false}, "axis": null},
                "y": {"datum": 21.8, "type": "quantitative", "scale": {"domain": [29, 90.9], "nice": false, "zero": false}, "axis": null},
                "text": {"field": "lab", "type": "nominal"}
              }
            },
            {
              "data": {"name": "rnotes"},
              "transform": [{"filter": "datum.k == 'sq'"}],
              "mark": {"type": "square", "size": 26, "filled": true, "fill": "#b4b4b4", "stroke": "#707070", "strokeWidth": 1},
              "encoding": {
                "x": {"field": "i", "type": "quantitative", "scale": {"domain": [-0.413, 124.2], "nice": false, "zero": false}, "axis": null},
                "y": {"field": "r", "type": "quantitative", "scale": {"domain": [29, 90.9], "nice": false, "zero": false}, "axis": null}
              }
            },
            {
              "data": {"name": "rnotes"},
              "transform": [{"filter": "datum.k != 'sq'"}],
              "mark": {"type": "text", "align": "left", "baseline": "middle", "font": "Noto Sans CJK KR", "fontSize": 11, "fill": "#f08a48"},
              "encoding": {
                "x": {"field": "i", "type": "quantitative", "scale": {"domain": [-0.413, 124.2], "nice": false, "zero": false}, "axis": null},
                "y": {"field": "r", "type": "quantitative", "scale": {"domain": [29, 90.9], "nice": false, "zero": false}, "axis": null},
                "text": {"field": "t", "type": "nominal"}
              }
            }
          ]
        }
      ]
    }
  ]
}
